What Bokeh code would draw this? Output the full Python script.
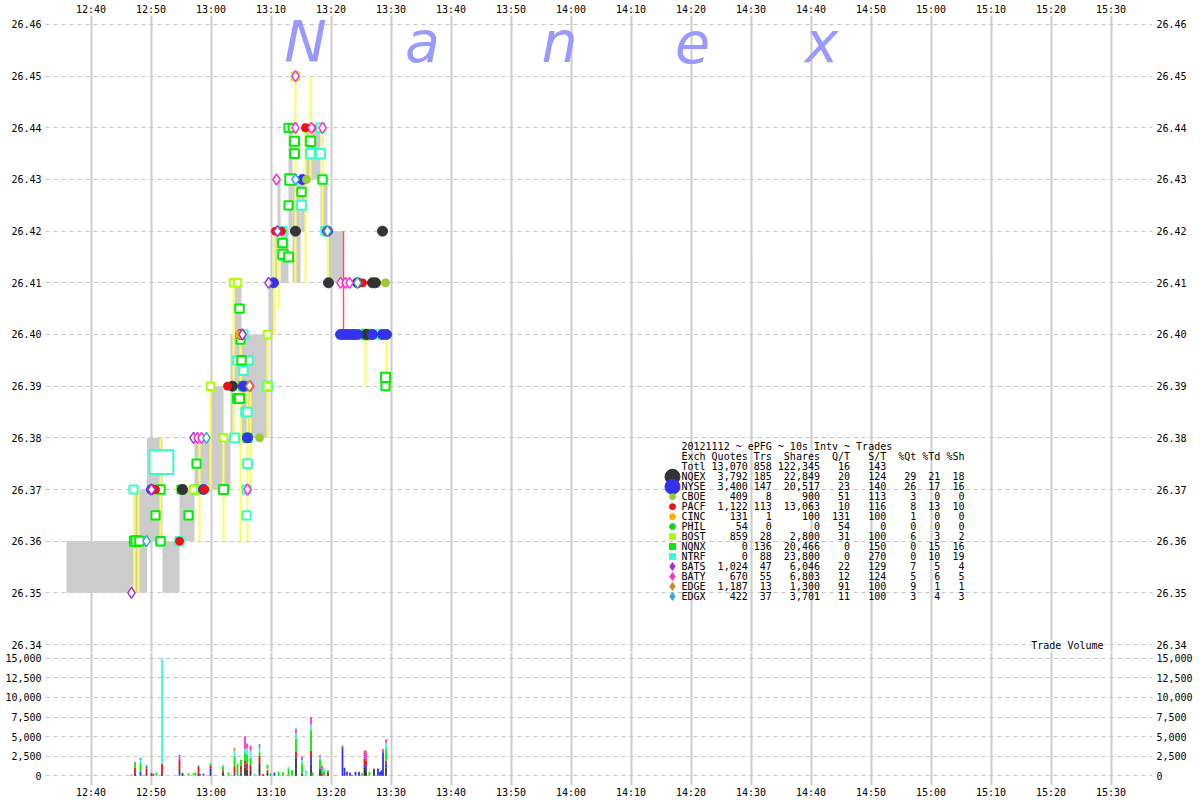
import pandas as pd
from bokeh.plotting import figure
from bokeh.layouts import column
from bokeh.models import (Range1d, FixedTicker, DatetimeTickFormatter, LinearAxis,
                          NumeralTickFormatter, ColumnDataSource, Label)
from bokeh.core.properties import value
from bokeh.embed import file_html
from bokeh.resources import INLINE

DAY = "2012-11-12 "

# ---------------- data ----------------
x_tick_times = ["12:40", "12:50", "13:00", "13:10", "13:20", "13:30", "13:40", "13:50",
                "14:00", "14:10", "14:20", "14:30", "14:40", "14:50", "15:00", "15:10",
                "15:20", "15:30"]
price_ticks = [26.34, 26.35, 26.36, 26.37, 26.38, 26.39, 26.40, 26.41, 26.42, 26.43,
               26.44, 26.45, 26.46]
volume_ticks = [0, 2500, 5000, 7500, 10000, 12500, 15000]

exchanges = ["NQEX", "NYSE", "CBOE", "PACF", "CINC", "PHIL", "BOST", "NQNX", "NTRF",
             "BATS", "BATY", "EDGE", "EDGX"]
ex_quotes = [3792, 3400, 409, 1122, 131, 54, 859, 0, 0, 1024, 670, 1187, 422]
ex_trades = [185, 147, 8, 113, 1, 0, 28, 136, 88, 47, 55, 13, 37]
ex_shares = [22849, 20517, 900, 13063, 100, 0, 2800, 20466, 23800, 6046, 6803, 1300, 3701]
ex_q_per_t = [20, 23, 51, 10, 131, 54, 31, 0, 0, 22, 12, 91, 11]
ex_s_per_t = [124, 140, 113, 116, 100, 0, 100, 150, 270, 129, 124, 100, 100]
ex_pct_qt = [29, 26, 3, 8, 1, 0, 6, 0, 0, 7, 5, 9, 3]
ex_pct_td = [21, 17, 0, 13, 0, 0, 3, 15, 10, 5, 6, 1, 4]
ex_pct_sh = [18, 16, 0, 10, 0, 0, 2, 16, 19, 4, 5, 1, 3]
total_row = ("Totl", 13070, 858, 122345, 16, 143)
title_text = "20121112 ~ ePFG ~ 10s Intv ~ Trades"

# quote range blocks: start, end, bid, ask
gray_blocks = [
    ("12:35:55", "12:47:05", 26.35, 26.36),
    ("12:47:05", "12:49:20", 26.35, 26.37),
    ("12:49:20", "12:51:55", 26.36, 26.38),
    ("12:51:55", "12:54:45", 26.35, 26.36),
    ("12:54:45", "12:57:15", 26.36, 26.37),
    ("12:57:15", "12:59:55", 26.37, 26.38),
    ("12:59:55", "13:02:05", 26.37, 26.39),
    ("13:02:05", "13:03:15", 26.37, 26.38),
    ("13:03:15", "13:03:55", 26.38, 26.40),
    ("13:03:55", "13:05:05", 26.39, 26.41),
    ("13:05:05", "13:09:35", 26.38, 26.40),
    ("13:09:35", "13:10:25", 26.40, 26.41),
    ("13:10:25", "13:11:05", 26.41, 26.42),
    ("13:11:05", "13:11:35", 26.42, 26.43),
    ("13:11:35", "13:12:55", 26.41, 26.42),
    ("13:12:55", "13:13:35", 26.42, 26.44),
    ("13:13:35", "13:14:55", 26.41, 26.43),
    ("13:14:55", "13:15:45", 26.42, 26.43),
    ("13:15:45", "13:18:15", 26.43, 26.44),
    ("13:18:15", "13:19:25", 26.42, 26.43),
    ("13:19:25", "13:22:05", 26.41, 26.42),
]

# trade range lines: time, low, high
yellow_lines = [
    ("12:47:15", 26.35, 26.37), ("12:47:55", 26.35, 26.37), ("12:51:35", 26.36, 26.38),
    ("12:58:05", 26.36, 26.38), ("12:59:55", 26.37, 26.39), ("13:02:05", 26.36, 26.38),
    ("13:03:45", 26.38, 26.41), ("13:04:55", 26.36, 26.40), ("13:06:05", 26.36, 26.39),
    ("13:06:35", 26.37, 26.39), ("13:09:25", 26.38, 26.40), ("13:10:35", 26.40, 26.42),
    ("13:11:15", 26.405, 26.42), ("13:14:05", 26.41, 26.45), ("13:15:45", 26.41, 26.44),
    ("13:16:35", 26.43, 26.45), ("13:18:35", 26.42, 26.44), ("13:19:30", 26.41, 26.42),
    ("13:25:45", 26.39, 26.40), ("13:29:15", 26.39, 26.40),
]
red_lines = [("13:22:05", 26.40, 26.42)]

# trades: time, exchange, price, shares
trades = [
    ("12:55:15", "NQEX", 26.37, 300), ("13:03:35", "NQEX", 26.39, 300),
    ("13:14:05", "NQEX", 26.42, 500), ("13:19:35", "NQEX", 26.41, 300),
    ("13:24:25", "NQEX", 26.41, 300), ("13:25:55", "NQEX", 26.40, 300),
    ("13:26:55", "NQEX", 26.41, 400), ("13:27:25", "NQEX", 26.41, 300),
    ("13:28:35", "NQEX", 26.42, 300),
    ("12:50:05", "NYSE", 26.37, 300), ("12:58:45", "NYSE", 26.37, 200),
    ("13:05:25", "NYSE", 26.39, 300), ("13:04:55", "NYSE", 26.40, 300),
    ("13:06:05", "NYSE", 26.38, 200), ("13:10:25", "NYSE", 26.41, 400),
    ("13:15:15", "NYSE", 26.43, 500), ("13:19:25", "NYSE", 26.42, 200),
    ("13:21:35", "NYSE", 26.40, 1500), ("13:22:05", "NYSE", 26.40, 1000),
    ("13:22:40", "NYSE", 26.40, 500), ("13:23:15", "NYSE", 26.40, 400),
    ("13:23:50", "NYSE", 26.40, 300), ("13:24:25", "NYSE", 26.40, 500),
    ("13:26:55", "NYSE", 26.40, 900), ("13:28:35", "NYSE", 26.40, 1500),
    ("13:29:15", "NYSE", 26.40, 600),
    ("13:08:05", "CBOE", 26.38, 100), ("13:15:55", "CBOE", 26.43, 100),
    ("13:19:25", "CBOE", 26.42, 100), ("13:29:05", "CBOE", 26.41, 100),
    ("12:50:45", "PACF", 26.37, 200), ("12:54:45", "PACF", 26.36, 300),
    ("12:58:55", "PACF", 26.37, 200), ("13:02:45", "PACF", 26.39, 300),
    ("13:10:45", "PACF", 26.42, 200), ("13:11:45", "PACF", 26.42, 200),
    ("13:15:45", "PACF", 26.44, 300), ("13:16:45", "PACF", 26.44, 300),
    ("13:19:25", "PACF", 26.42, 200), ("13:25:15", "PACF", 26.41, 300),
    ("13:04:45", "CINC", 26.40, 100),
    ("12:57:05", "BOST", 26.37, 100), ("12:58:35", "BOST", 26.37, 100),
    ("12:59:55", "BOST", 26.39, 100), ("13:02:05", "BOST", 26.38, 100),
    ("13:03:45", "BOST", 26.41, 100), ("13:04:25", "BOST", 26.41, 100),
    ("13:09:25", "BOST", 26.40, 100), ("13:09:25", "BOST", 26.39, 100),
    ("13:14:05", "BOST", 26.45, 100), ("13:15:55", "BOST", 26.44, 100),
    ("12:47:15", "NQNX", 26.36, 800), ("12:47:35", "NQNX", 26.36, 1000),
    ("12:48:05", "NQNX", 26.36, 500), ("12:50:45", "NQNX", 26.365, 300),
    ("12:51:35", "NQNX", 26.37, 400), ("12:51:35", "NQNX", 26.36, 400),
    ("12:55:05", "NQNX", 26.37, 300), ("12:56:15", "NQNX", 26.365, 300),
    ("12:57:35", "NQNX", 26.375, 300), ("12:57:25", "NQNX", 26.37, 200),
    ("13:02:05", "NQNX", 26.37, 700), ("13:04:25", "NQNX", 26.3876, 600),
    ("13:04:45", "NQNX", 26.3876, 600), ("13:04:45", "NQNX", 26.405, 400),
    ("13:04:55", "NQNX", 26.399, 300), ("13:05:05", "NQNX", 26.395, 400),
    ("13:05:25", "NQNX", 26.39, 500), ("13:06:05", "NQNX", 26.38, 300),
    ("13:11:55", "NQNX", 26.4177, 500), ("13:12:00", "NQNX", 26.4155, 800),
    ("13:12:55", "NQNX", 26.415, 700), ("13:12:55", "NQNX", 26.425, 300),
    ("13:13:15", "NQNX", 26.43, 1500), ("13:12:55", "NQNX", 26.44, 300),
    ("13:13:35", "NQNX", 26.44, 200), ("13:13:55", "NQNX", 26.4374, 700),
    ("13:13:55", "NQNX", 26.435, 600), ("13:15:05", "NQNX", 26.4276, 400),
    ("13:16:35", "NQNX", 26.4374, 800), ("13:18:35", "NQNX", 26.43, 400),
    ("13:25:55", "NQNX", 26.40, 900), ("13:29:05", "NQNX", 26.3917, 700),
    ("13:29:05", "NQNX", 26.39, 300),
    ("12:47:05", "NTRF", 26.37, 300), ("12:51:45", "NTRF", 26.3753, 13500),
    ("12:51:35", "NTRF", 26.36, 500), ("12:54:45", "NTRF", 26.36, 400),
    ("13:03:55", "NTRF", 26.38, 600), ("13:04:25", "NTRF", 26.395, 500),
    ("13:05:25", "NTRF", 26.393, 400), ("13:06:15", "NTRF", 26.395, 400),
    ("13:05:45", "NTRF", 26.385, 500), ("13:06:05", "NTRF", 26.385, 400),
    ("13:06:05", "NTRF", 26.375, 500), ("13:05:55", "NTRF", 26.37, 300),
    ("13:05:55", "NTRF", 26.365, 300), ("13:05:25", "NTRF", 26.40, 400),
    ("13:09:25", "NTRF", 26.39, 800), ("13:12:25", "NTRF", 26.415, 400),
    ("13:11:55", "NTRF", 26.42, 400), ("13:15:05", "NTRF", 26.425, 600),
    ("13:16:35", "NTRF", 26.435, 700), ("13:18:15", "NTRF", 26.435, 700),
    ("13:18:15", "NTRF", 26.44, 400), ("13:19:05", "NTRF", 26.42, 400),
    ("13:25:15", "NTRF", 26.40, 300), ("13:28:05", "NTRF", 26.40, 400),
    ("12:46:45", "BATS", 26.35, 100), ("12:50:05", "BATS", 26.37, 200),
    ("12:57:05", "BATS", 26.38, 100), ("13:05:15", "BATS", 26.40, 100),
    ("13:09:35", "BATS", 26.41, 100), ("13:11:05", "BATS", 26.42, 100),
    ("12:57:45", "BATY", 26.38, 100), ("12:58:25", "BATY", 26.38, 100),
    ("13:06:05", "BATY", 26.37, 100), ("13:06:35", "BATY", 26.39, 100),
    ("13:10:55", "BATY", 26.43, 100), ("13:14:05", "BATY", 26.44, 100),
    ("13:14:05", "BATY", 26.45, 100), ("13:16:45", "BATY", 26.44, 100),
    ("13:18:35", "BATY", 26.44, 100), ("13:21:35", "BATY", 26.41, 100),
    ("13:22:25", "BATY", 26.41, 100), ("13:23:05", "BATY", 26.41, 100),
    ("13:06:25", "EDGE", 26.39, 100),
    ("12:49:15", "EDGX", 26.36, 100), ("12:59:15", "EDGX", 26.38, 100),
    ("13:14:05", "EDGX", 26.43, 100), ("13:19:25", "EDGX", 26.42, 100),
    ("13:24:25", "EDGX", 26.41, 100),
]

# volume per 10s interval, per exchange: time, exchange, shares
volume = [
    ("12:46:45", "BATY", 100),
    ("12:47:20", "NQEX", 300), ("12:47:20", "PACF", 700), ("12:47:20", "NQNX", 500), ("12:47:20", "BATY", 250),
    ("12:48:15", "NYSE", 500), ("12:48:15", "NQNX", 1100), ("12:48:15", "NTRF", 400), ("12:48:15", "EDGX", 290),
    ("12:49:15", "NQEX", 200), ("12:49:15", "PACF", 700), ("12:49:15", "BATS", 200), ("12:49:15", "EDGX", 275),
    ("12:50:05", "NYSE", 300), ("12:50:05", "EDGX", 100),
    ("12:50:25", "PACF", 200),
    ("12:50:55", "NQNX", 400),
    ("12:51:50", "NQEX", 200), ("12:51:50", "PACF", 1300), ("12:51:50", "NTRF", 13500),
    ("12:54:45", "NYSE", 600), ("12:54:45", "PACF", 1300), ("12:54:45", "BATY", 500), ("12:54:45", "BATS", 270),
    ("12:55:15", "NQEX", 300), ("12:55:15", "NQNX", 100),
    ("12:56:15", "NQNX", 300),
    ("12:57:05", "NQNX", 200), ("12:57:05", "BOST", 100),
    ("12:57:25", "NQNX", 400),
    ("12:57:55", "NQEX", 300), ("12:57:55", "PACF", 900), ("12:57:55", "NTRF", 200),
    ("12:58:10", "BATS", 250),
    ("12:58:45", "NYSE", 250),
    ("12:59:55", "NQEX", 300), ("12:59:55", "NYSE", 600), ("12:59:55", "PACF", 400), ("12:59:55", "NQNX", 240),
    ("13:02:00", "NQEX", 400), ("13:02:00", "PACF", 300), ("13:02:00", "NQNX", 500), ("13:02:00", "NTRF", 175),
    ("13:02:55", "NQNX", 400),
    ("13:03:55", "NYSE", 300), ("13:03:55", "PACF", 900), ("13:03:55", "NQNX", 1200), ("13:03:55", "NTRF", 800), ("13:03:55", "EDGE", 340),
    ("13:04:25", "NQNX", 1500),
    ("13:05:00", "NYSE", 400), ("13:05:00", "PACF", 900), ("13:05:00", "NQNX", 740),
    ("13:05:40", "NQEX", 1000), ("13:05:40", "NYSE", 400), ("13:05:40", "PACF", 500), ("13:05:40", "NQNX", 1000), ("13:05:40", "NTRF", 500), ("13:05:40", "BATY", 1600),
    ("13:06:00", "NQEX", 800), ("13:06:00", "PACF", 700), ("13:06:00", "NQNX", 1200), ("13:06:00", "NTRF", 800), ("13:06:00", "BATY", 625),
    ("13:06:35", "NQEX", 600), ("13:06:35", "PACF", 800), ("13:06:35", "NQNX", 900), ("13:06:35", "NTRF", 900), ("13:06:35", "BATY", 630),
    ("13:07:15", "NTRF", 300),
    ("13:08:05", "NQEX", 1500), ("13:08:05", "PACF", 1000), ("13:08:05", "NQNX", 500), ("13:08:05", "NTRF", 500), ("13:08:05", "BATY", 240), ("13:08:05", "EDGX", 300),
    ("13:08:40", "PACF", 200),
    ("13:09:25", "NQEX", 400), ("13:09:25", "PACF", 300), ("13:09:25", "NQNX", 500), ("13:09:25", "BOST", 200),
    ("13:09:55", "NQNX", 300),
    ("13:10:35", "NYSE", 400),
    ("13:11:15", "NQNX", 500),
    ("13:12:00", "NQNX", 450),
    ("13:12:55", "NQNX", 900), ("13:12:55", "NTRF", 225),
    ("13:13:30", "NQNX", 700),
    ("13:14:10", "NQEX", 2300), ("13:14:10", "PACF", 800), ("13:14:10", "NQNX", 1600), ("13:14:10", "NTRF", 700), ("13:14:10", "BATY", 440), ("13:14:10", "EDGX", 200),
    ("13:15:10", "NQEX", 200), ("13:15:10", "NQNX", 1300), ("13:15:10", "NTRF", 500), ("13:15:10", "BATY", 460),
    ("13:15:50", "NTRF", 700),
    ("13:16:40", "NQEX", 1400), ("13:16:40", "NYSE", 1000), ("13:16:40", "PACF", 800), ("13:16:40", "NQNX", 2600), ("13:16:40", "NTRF", 700), ("13:16:40", "BATY", 1000),
    ("13:16:55", "NQNX", 400),
    ("13:18:10", "NQEX", 700), ("13:18:10", "NYSE", 200), ("13:18:10", "NQNX", 1200), ("13:18:10", "NTRF", 325), ("13:18:10", "BATY", 200),
    ("13:18:30", "PACF", 300), ("13:18:30", "NQNX", 500), ("13:18:30", "BATY", 450),
    ("13:18:50", "NQNX", 500), ("13:18:50", "NTRF", 400),
    ("13:19:30", "NQEX", 300), ("13:19:30", "PACF", 200), ("13:19:30", "NQNX", 200),
    ("13:21:55", "NYSE", 3500), ("13:21:55", "PACF", 200), ("13:21:55", "EDGX", 200),
    ("13:22:15", "NYSE", 1000),
    ("13:22:40", "NYSE", 500),
    ("13:23:10", "NYSE", 400),
    ("13:23:30", "BATY", 100),
    ("13:24:05", "NYSE", 500),
    ("13:24:40", "NYSE", 500),
    ("13:25:10", "NQNX", 300),
    ("13:25:35", "NQEX", 1000), ("13:25:35", "NYSE", 400), ("13:25:35", "PACF", 800), ("13:25:35", "BATY", 1000),
    ("13:25:50", "NQEX", 700), ("13:25:50", "NYSE", 500), ("13:25:50", "PACF", 700), ("13:25:50", "BATY", 1000), ("13:25:50", "EDGE", 350),
    ("13:26:25", "NQNX", 500),
    ("13:27:10", "NQEX", 875),
    ("13:27:50", "NYSE", 900),
    ("13:28:10", "NYSE", 500),
    ("13:28:25", "NYSE", 700),
    ("13:28:40", "NYSE", 3000), ("13:28:40", "BATY", 400),
    ("13:29:10", "NQEX", 1000), ("13:29:10", "NYSE", 600), ("13:29:10", "PACF", 300), ("13:29:10", "NQNX", 1500), ("13:29:10", "NTRF", 800), ("13:29:10", "BATY", 470),
]

# ---------------- styles ----------------
ex_color = {"NQEX": "#333333", "NYSE": "#3333ee", "CBOE": "#99cc33", "PACF": "#ee1111",
            "CINC": "#ffaa00", "PHIL": "#22cc22", "BOST": "#aaff00", "NQNX": "#00ee00",
            "NTRF": "#33ffcc", "BATS": "#aa33cc", "BATY": "#ff33cc", "EDGE": "#cc8822",
            "EDGX": "#33aadd"}
ex_marker = {"NQEX": "circle", "NYSE": "circle", "CBOE": "circle", "PACF": "circle",
             "CINC": "circle", "PHIL": "circle", "BOST": "square", "NQNX": "square",
             "NTRF": "square", "BATS": "diamond", "BATY": "diamond", "EDGE": "diamond",
             "EDGX": "diamond"}
FONT = "DejaVu Sans Mono"


def t2ms(t):
    if len(t) == 5:
        t = t + ":00"
    return pd.Timestamp(DAY + t).value / 1e6


# layout helpers for annotation placement (page pixels -> data)
T_1240 = t2ms("12:40")


def ref_x(px):
    return T_1240 + (px - 90.5) / 6.0 * 60000.0


def ref_y(py):
    return 26.46 - (py - 22.0) / 5183.3


X_START = ref_x(45)
X_END = ref_x(1152)
x_ticks = [t2ms(t) for t in x_tick_times]
dt_fmt = DatetimeTickFormatter(minutes="%H:%M", hourmin="%H:%M", hours="%H:%M",
                               minsec="%H:%M", seconds="%H:%M")


def style_axis(ax, standoff=3):
    ax.axis_line_color = None
    ax.major_tick_line_color = None
    ax.minor_tick_line_color = None
    ax.major_tick_out = 0
    ax.major_tick_in = 0
    ax.minor_tick_out = 0
    ax.major_label_text_font = FONT
    ax.major_label_text_font_size = "10px"
    ax.major_label_text_color = "#000000"
    ax.major_label_standoff = standoff


# ---------------- price panel ----------------
p = figure(width=1200, height=652, x_axis_type="datetime", x_axis_location="above",
           x_range=Range1d(X_START, X_END), y_range=Range1d(ref_y(652), ref_y(13)),
           output_backend="svg", toolbar_location=None,
           min_border_left=45, min_border_right=48, min_border_top=0, min_border_bottom=0)
p.add_layout(LinearAxis(), "right")
p.outline_line_color = None
p.xaxis.ticker = FixedTicker(ticks=x_ticks)
p.xaxis.formatter = dt_fmt
p.yaxis.ticker = FixedTicker(ticks=price_ticks)
p.yaxis.formatter = NumeralTickFormatter(format="0.00")
for ax in p.xaxis:
    style_axis(ax, 1)
for ax in p.yaxis:
    style_axis(ax, 4)
p.xgrid.grid_line_color = "#cccccc"
p.xgrid.grid_line_width = 2
p.ygrid.grid_line_color = "#c4c4c4"
p.ygrid.grid_line_dash = "4 4"

# watermark
for letter, px in zip("Nanex", [305, 422, 559, 692, 821]):
    p.add_layout(Label(x=ref_x(px), y=ref_y(40), text=letter, text_align="center",
                       text_baseline="alphabetic", text_font="DejaVu Sans",
                       text_font_style="italic", text_font_size="57px",
                       text_color="#9999ff"))

gsrc = ColumnDataSource(dict(left=[t2ms(g[0]) for g in gray_blocks],
                             right=[t2ms(g[1]) for g in gray_blocks],
                             bottom=[g[2] for g in gray_blocks],
                             top=[g[3] for g in gray_blocks]))
p.quad(left="left", right="right", bottom="bottom", top="top", source=gsrc,
       fill_color="#cccccc", line_color=None)

ysrc = ColumnDataSource(dict(x=[t2ms(y[0]) for y in yellow_lines],
                             lo=[y[1] for y in yellow_lines],
                             hi=[y[2] for y in yellow_lines]))
p.segment(x0="x", y0="lo", x1="x", y1="hi", source=ysrc, line_color="#ffff55", line_width=2)
rsrc = ColumnDataSource(dict(x=[t2ms(r[0]) for r in red_lines],
                             lo=[r[1] for r in red_lines], hi=[r[2] for r in red_lines]))
p.segment(x0="x", y0="lo", x1="x", y1="hi", source=rsrc, line_color="#ff5555", line_width=1.5)

tdf = pd.DataFrame(trades, columns=["time", "exch", "price", "shares"])
tdf["t"] = tdf["time"].map(t2ms)

draw_order = ["NTRF", "NQNX", "BOST", "NQEX", "NYSE", "CBOE", "PACF", "CINC", "PHIL",
              "BATS", "BATY", "EDGE", "EDGX"]
for ex in draw_order:
    sub = tdf[tdf.exch == ex]
    if sub.empty:
        continue
    src = ColumnDataSource(dict(t=sub.t.tolist(), price=sub.price.tolist(),
                                size=[7 + 18 * (s / 15000.0) ** 0.7 for s in sub.shares]))
    col = ex_color[ex]
    if ex in ("NQNX", "NTRF", "BOST"):
        p.scatter("t", "price", source=src, marker="square", size="size",
                  fill_color="white", line_color=col, line_width=2)
    elif ex in ("NQEX", "NYSE"):
        p.scatter("t", "price", source=src, marker="circle", size=10,
                  fill_color=col, line_color=col)
    elif ex_marker[ex] == "circle":
        p.scatter("t", "price", source=src, marker="circle", size=8,
                  fill_color=col, line_color=col)
    else:
        p.scatter("t", "price", source=src, marker="diamond", size=11,
                  fill_color="white", line_color=col, line_width=1.5)

# statistics table
NB = "\u00a0"


def fmt_row(name, q, t, s, qt, st, pq=None, pt=None, ps=None):
    txt = (f"{name:<4} {q:>6,} {t:>3} {s:>7,} {qt:>4} {st:>5}")
    if pq is not None:
        txt += f" {pq:>4} {pt:>3} {ps:>3}"
    return txt.replace(" ", NB)


lines = [title_text.replace(" ", NB),
         "Exch Quotes Trs  Shares  Q/T   S/T  %Qt %Td %Sh".replace(" ", NB),
         fmt_row(*total_row)]
for i, ex in enumerate(exchanges):
    lines.append(fmt_row(ex, ex_quotes[i], ex_trades[i], ex_shares[i], ex_q_per_t[i],
                         ex_s_per_t[i], ex_pct_qt[i], ex_pct_td[i], ex_pct_sh[i]))
row_y = [ref_y(445.7 + 10 * i) for i in range(len(lines))]
p.text(x=[ref_x(681)] * len(lines), y=row_y, text=lines, text_font=value(FONT),
       text_font_size="10px", text_baseline="middle", text_align="left", text_color="#000000")

leg_sizes = {"NQEX": 15, "NYSE": 15}
for i, ex in enumerate(exchanges):
    m = ex_marker[ex]
    sz = leg_sizes.get(ex, 6 if m != "diamond" else 8)
    p.scatter([ref_x(672)], [row_y[3 + i]], marker=m, size=sz,
              fill_color=ex_color[ex], line_color=ex_color[ex])

p.add_layout(Label(x=ref_x(1103), y=ref_y(645), text="Trade Volume", text_align="right",
                   text_baseline="middle", text_font=FONT, text_font_size="10px",
                   background_fill_color="white", text_color="#000000"))

# ---------------- volume panel ----------------
v = figure(width=1200, height=148, x_axis_type="datetime", x_range=p.x_range,
           y_range=Range1d(-1261, 15756), output_backend="svg", toolbar_location=None,
           min_border_left=45, min_border_right=48, min_border_top=0, min_border_bottom=0)
v.add_layout(LinearAxis(), "right")
v.outline_line_color = None
v.xaxis.ticker = FixedTicker(ticks=x_ticks)
v.xaxis.formatter = dt_fmt
v.yaxis.ticker = FixedTicker(ticks=volume_ticks)
v.yaxis.formatter = NumeralTickFormatter(format="0,0")
for ax in v.xaxis:
    style_axis(ax, 1)
for ax in v.yaxis:
    style_axis(ax, 4)
v.xgrid.grid_line_color = "#cccccc"
v.xgrid.grid_line_width = 2
v.ygrid.grid_line_color = "#c4c4c4"
v.ygrid.grid_line_dash = "4 4"

vdf = pd.DataFrame(volume, columns=["time", "exch", "shares"])
piv = vdf.pivot_table(index="time", columns="exch", values="shares", aggfunc="sum",
                      fill_value=0).reindex(columns=exchanges, fill_value=0)
vsrc = dict(t=[t2ms(t) for t in piv.index])
for ex in exchanges:
    vsrc[ex] = piv[ex].astype(float).tolist()
v.vbar_stack(exchanges, x="t", width=18000, source=ColumnDataSource(vsrc),
             color=[ex_color[e] for e in exchanges], line_color=None)

layout = column(p, v, spacing=0)
open("out.html", "w").write(file_html(layout, INLINE))
